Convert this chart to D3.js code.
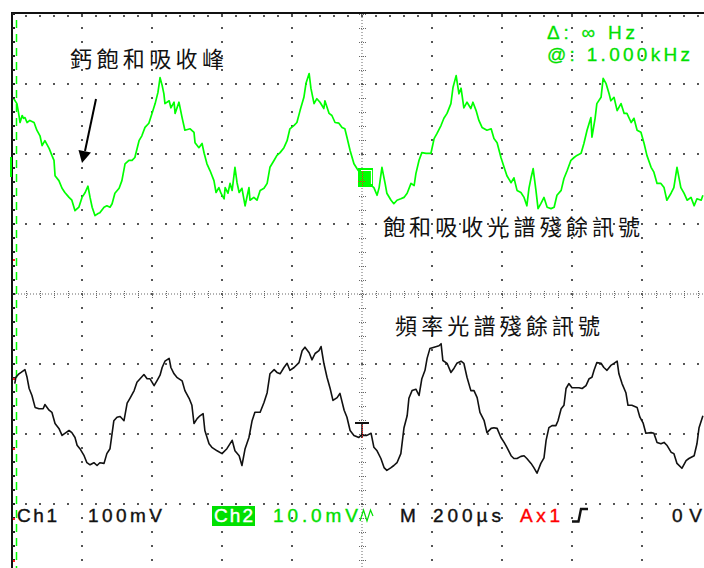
<!DOCTYPE html>
<html><head><meta charset="utf-8">
<script src="https://cdn.jsdelivr.net/npm/d3@7"></script>
<style>html,body{margin:0;padding:0;background:#fff;overflow:hidden}svg{display:block}</style>
</head><body>
<svg id="scope" width="704" height="568"></svg>
<script>
// Sweep: 200 µs/div, 10 divisions
const timeDivs = d3.range(0, 11).map(i => i * 200);
const voltDivs = d3.range(-4, 5);

// Ch2 (saturated absorption residual), mV at 10 mV/div
const ch2Times = [5,14,19,23,29,33,37,43,51,63,
  71,80,86,94,106,114,120,123,134,143,
  151,163,171,180,191,200,209,217,223,229,
  237,246,251,263,271,280,286,294,306,314,
  323,334,343,351,363,371,380,391,400,409,
  417,423,429,434,437,449,454,463,466,477,
  486,494,509,520,523,534,543,549,557,566,
  577,583,591,597,606,609,617,623,629,637,
  643,649,657,666,677,680,691,700,709,720,
  729,737,749,757,766,777,786,794,806,814,
  823,834,840,849,854,863,871,880,891,894,
  906,914,923,934,943,951,957,966,977,986,
  1000,1017,
  1034,1043,1049,1057,1066,1071,1083,1091,1100,1111,
  1120,1129,1140,1149,1154,1163,1171,1183,1197,1206,
  1214,1226,1234,1243,1254,1260,1269,1277,1283,1291,
  1300,1311,1317,1326,1334,1343,1357,1369,1377,1386,
  1397,1406,1414,1426,1434,1443,1454,1463,1471,1477,
  1483,1489,1497,1503,1511,1520,1529,1540,1549,1557,
  1569,1577,1586,1597,1606,1614,1626,1634,1643,1654,
  1657,1666,1671,1683,1689,1697,1706,1711,1720,1729,
  1740,1749,1757,1769,1777,1786,1797,1806,1814,1826,
  1834,1843,1854,1863,1871,1883,1891,1900,1911,1920,
  1929,1940,1949,1957,1969,1974];
const ch2Values = [9.9,9.2,7.8,6.5,7.5,7.1,7.2,6.5,6.8,6.5,
  5.4,4.6,3.2,3.9,2.8,1.8,1.1,-1.1,-1.8,-2.9,
  -3.5,-4.2,-4.6,-6.1,-5.6,-4.2,-3.5,-2.6,-4.2,-5.6,
  -6.8,-6.5,-6.4,-5.6,-5.4,-5.6,-5.1,-3.6,-2.9,-1.8,
  0.6,1.1,1.1,1.5,3.9,4.6,5.8,6.4,7.8,9.2,
  10.8,12.9,11.8,10.6,9.2,9.6,8.6,9.4,7.8,9.4,
  7.2,5.4,5.6,5.1,3.6,2.9,3.5,2.1,0.6,-0.4,
  -1.8,-3.5,-2.8,-3.6,-4.4,-2.8,-3.6,-2.2,-3.2,0.1,
  -2.1,-3.5,-2.9,-5.4,-2.8,-4.6,-4.2,-4.6,-3.2,-2.9,
  -2.2,0.1,1.1,1.8,2.2,2.9,3.9,5.6,6.1,6.5,
  8.2,10.1,12.1,13.5,11.4,9.2,9.9,9.4,8.5,9.6,
  7.8,7.5,6.5,6.4,5.8,5.6,4.4,2.5,0.6,-0.1,
  -1.1,-2.1,
  -2.8,-3.9,-2.8,0.1,-2.2,-3.6,-4.6,-5.1,-4.6,-4.4,
  -4.2,-3.6,-2.2,-2.5,-0.8,1.1,2.2,2.1,2.1,4.2,
  4.9,6.1,7.1,7.8,9.2,11.5,13.2,10.6,11.4,8.6,
  9.4,8.5,9.4,8.2,6.8,5.8,5.4,5.6,4.2,3.6,
  1.5,0.1,-1.1,-2.1,-1.4,-3.2,-3.5,-4.2,-5.4,-2.9,
  -1.4,-0.1,-3.2,-5.8,-5.1,-4.2,-5.6,-5.8,-5.6,-3.9,
  -3.2,-1.5,-0.4,1.1,1.5,1.8,2.1,3.5,5.4,7.2,
  4.4,7.1,9.2,10.1,12.8,12.1,10.6,9.6,10.1,8.2,
  9.2,7.8,7.8,6.5,7.1,5.4,5.1,3.5,1.8,0.1,
  -0.6,-2.2,-2.2,-2.8,-4.6,-3.6,-2.8,0.1,-2.8,-3.6,
  -4.6,-4.2,-5.4,-4.4,-4.6,-3.9];

// Ch1 (frequency spectrum residual), mV at 100 mV/div
const ch1Times = [8,11,20,26,37,43,49,57,66,77,
  89,94,106,114,123,134,143,151,163,171,
  180,186,194,206,214,223,234,243,251,263,
  271,280,286,291,300,309,320,329,337,349,
  357,366,377,386,394,406,414,423,429,437,
  449,454,463,471,486,494,506,514,520,529,
  537,546,551,563,571,586,600,614,629,637,
  649,657,666,677,686,694,709,720,729,737,
  749,757,766,777,786,794,806,820,829,837,
  849,857,866,877,883,891,900,909,917,929,
  937,949,957,966,977,991,997,1014,1026,1034,
  1043,1054,1063,1071,1083,1091,1100,1111,1120,1129,
  1134,1143,1154,1163,1171,1180,1186,1194,1206,1220,
  1226,1231,1243,1254,1263,1271,1283,1291,1300,1311,
  1320,1329,1337,1349,1357,1369,1377,1386,1397,1406,
  1414,1426,1434,1443,1454,1463,1471,1483,1491,1500,
  1511,1520,1526,1534,1543,1554,1560,1569,1577,1583,
  1591,1600,1611,1620,1629,1640,1649,1657,1663,1671,
  1683,1691,1700,1711,1720,1729,1734,1743,1754,1760,
  1771,1786,1794,1803,1811,1826,1834,1843,1854,1863,
  1871,1883,1891,1900,1914,1926,1934,1949,1957,1963,1974];
const ch1Values = [72,81,86,88,92,81,65,55,38,36,
  36,42,34,31,15,8,-2,1,5,2,
  -5,-16,-21,-31,-41,-44,-41,-45,-41,-42,
  -28,-21,1,19,24,25,19,44,51,62,
  74,79,85,79,79,69,76,84,95,104,
  108,95,86,81,76,62,51,41,15,22,
  26,29,5,-14,-19,-24,-28,-21,-9,-24,
  -31,-45,-21,-5,19,31,31,45,59,86,
  92,88,86,95,101,91,95,102,119,124,
  116,106,115,119,125,101,81,65,48,52,
  58,34,24,5,-2,-5,-2,-2,1,-19,
  -24,-35,-48,-52,-48,-45,-41,-28,9,26,
  51,62,64,55,79,91,108,122,124,126,
  129,105,101,88,94,101,104,101,81,62,
  62,52,31,19,2,8,9,8,-5,-12,
  -19,-31,-35,-35,-32,-31,-35,-42,-48,-56,
  -42,-34,-9,9,12,12,19,36,41,65,
  72,66,66,66,65,69,79,81,91,102,
  101,95,91,98,101,104,86,72,59,41,
  41,38,24,16,1,2,1,-12,-14,-12,
  -16,-26,-28,-42,-49,-38,-35,-31,-14,9,26];

// Channel settings
const ch1Scale = 100, ch2Scale = 10;   // mV per division
const ch1Pos = -2, ch2Pos = 1.8;       // vertical position, divisions

const statusLabels = ["Ch1", "100mV", "Ch2", "10.0mV", "M", "200µs", "Ax1", "0 V"];
const cursorLabels = ["Δ: ∞ Hz", "@: 1.000kHz"];
const notes = ["鈣飽和吸收峰", "飽和吸收光譜殘餘訊號", "頻率光譜殘餘訊號"];

const GREEN = "#00ff00", GREEN_TXT = "#00e000", GRID = "#555";
const svg = d3.select("#scope");
const x = d3.scaleLinear().domain([0, 2000]).range([12, 712]);
const yDiv = d3.scaleLinear().domain([-4, 4]).range([574, 14]);
const y1 = v => yDiv(v / ch1Scale + ch1Pos);
const y2 = v => yDiv(v / ch2Scale + ch2Pos);

const grid = svg.append("g");
const minorT = d3.range(0, 51).map(i => i * 40);
const minorV = d3.range(0, 41).map(i => -4 + i * 0.2);

// graticule dots on the division lines
timeDivs.filter(t => t !== 0 && t !== 1000).forEach(t => {
  grid.selectAll(null).data(minorV).join("rect")
    .attr("x", x(t) - 1).attr("y", d => Math.round(yDiv(d)) - 1)
    .attr("width", 2).attr("height", 2).attr("fill", GRID);
});
voltDivs.filter(v => v !== 0 && v !== 4).forEach(v => {
  grid.selectAll(null).data(minorT).join("rect")
    .attr("x", d => Math.round(x(d)) - 1).attr("y", yDiv(v) - 1)
    .attr("width", 2).attr("height", 2).attr("fill", GRID);
});
// minor ticks below the top edge
grid.selectAll(null).data(minorT).join("rect")
  .attr("x", d => Math.round(x(d)) - 1).attr("y", 15)
  .attr("width", 2).attr("height", 2).attr("fill", GRID);

// centre cross lines, finely dotted, with tick marks
grid.append("line").attr("x1", x(0)).attr("x2", x(2000))
  .attr("y1", yDiv(0)).attr("y2", yDiv(0))
  .attr("stroke", "#666").attr("stroke-width", 1).attr("stroke-dasharray", "1 2");
grid.append("line").attr("x1", x(1000)).attr("x2", x(1000))
  .attr("y1", yDiv(4)).attr("y2", yDiv(-4))
  .attr("stroke", "#666").attr("stroke-width", 1).attr("stroke-dasharray", "1 2");
grid.selectAll(null).data(minorT).join("line")
  .attr("x1", d => Math.round(x(d)) + 0.5).attr("x2", d => Math.round(x(d)) + 0.5)
  .attr("y1", yDiv(0) - 3).attr("y2", yDiv(0) + 4)
  .attr("stroke", "#666").attr("stroke-dasharray", "1 1");
grid.selectAll(null).data(minorV).join("line")
  .attr("y1", d => Math.round(yDiv(d)) + 0.5).attr("y2", d => Math.round(yDiv(d)) + 0.5)
  .attr("x1", x(1000) - 3).attr("x2", x(1000) + 4)
  .attr("stroke", "#666").attr("stroke-dasharray", "1 1");

// frame edges
svg.append("rect").attr("x", 11).attr("y", 12).attr("width", 704).attr("height", 2).attr("fill", "#111");
svg.append("rect").attr("x", 11).attr("y", 12).attr("width", 2).attr("height", 560).attr("fill", "#111");
// left-edge ticks
svg.selectAll(null).data(minorV).join("rect")
  .attr("x", 12).attr("y", d => Math.round(yDiv(d)) - 1).attr("width", 3).attr("height", 2)
  .attr("fill", "#222");
// channel level strip at the left edge
svg.append("line").attr("x1", 16.5).attr("x2", 16.5).attr("y1", 20).attr("y2", 568)
  .attr("stroke", GREEN).attr("stroke-width", 1.5).attr("stroke-dasharray", "8 6");
svg.selectAll(null).data([1, -2.4, -4.4, -6.4, -7.6].map(d => d / 2)).join("rect")
  .attr("x", 13).attr("y", d => Math.round(yDiv(d))).attr("width", 2).attr("height", 2)
  .attr("fill", "#ff2020");
// Ch2 ground marker
svg.append("rect").attr("x", 10).attr("y", y2(0) - 11).attr("width", 2).attr("height", 20).attr("fill", GREEN);

// traces
const line2 = d3.line().x((d, i) => x(ch2Times[i])).y(d => y2(d));
const line1 = d3.line().x((d, i) => x(ch1Times[i])).y(d => y1(d));
svg.append("path").datum(ch2Values).attr("d", line2)
  .attr("fill", "none").attr("stroke", GREEN).attr("stroke-width", 1.7).attr("stroke-linejoin", "round");
svg.append("path").datum(ch1Values).attr("d", line1)
  .attr("fill", "none").attr("stroke", "#111").attr("stroke-width", 1.6).attr("stroke-linejoin", "round");

// Ch2 position marker at the centre line
const cx = x(1000);
const mk = svg.append("g");
mk.append("rect").attr("x", cx - 4).attr("y", 168).attr("width", 15).attr("height", 19).attr("fill", GREEN);
mk.append("path").attr("d", `M${cx - 1},170.5 H${cx + 9.5} V184`).attr("fill", "none")
  .attr("stroke", "#fff").attr("stroke-width", 1.2);
mk.append("line").attr("x1", cx + 0.5).attr("x2", cx + 0.5).attr("y1", 171).attr("y2", 186)
  .attr("stroke", "#ff2020").attr("stroke-dasharray", "1 1");
mk.append("line").attr("x1", cx - 4).attr("x2", cx + 4).attr("y1", 181.5).attr("y2", 181.5)
  .attr("stroke", "#ff2020").attr("stroke-dasharray", "1 1");

// trigger marker
const tg = svg.append("g");
tg.append("line").attr("x1", cx - 7).attr("x2", cx + 7).attr("y1", 423).attr("y2", 423)
  .attr("stroke", "#111").attr("stroke-width", 2);
tg.append("line").attr("x1", cx).attr("x2", cx).attr("y1", 423).attr("y2", 438)
  .attr("stroke", "#111").attr("stroke-width", 1.5);
tg.append("line").attr("x1", cx + 0.5).attr("x2", cx + 0.5).attr("y1", 425).attr("y2", 438)
  .attr("stroke", "#ff2020").attr("stroke-dasharray", "1 1");

// annotation arrow
svg.append("line").attr("x1", 96).attr("y1", 99).attr("x2", 85).attr("y2", 151)
  .attr("stroke", "#000").attr("stroke-width", 2);
svg.append("path").attr("d", "M82,163 L78.5,150 L91,152.5 Z").attr("fill", "#000");

// annotations
const cjk = "'Noto Sans CJK TC','Noto Sans CJK SC',sans-serif";
const noteSpec = [
  { t: notes[0], x: 70, y: 66.5, w: 154 },
  { t: notes[1], x: 383, y: 234.5, w: 257 },
  { t: notes[2], x: 395, y: 333.5, w: 205 }
];
svg.selectAll(null).data(noteSpec).join("text")
  .attr("x", d => d.x).attr("y", d => d.y).text(d => d.t)
  .attr("textLength", d => d.w).attr("lengthAdjust", "spacing")
  .attr("font-family", cjk).attr("font-size", 22).attr("fill", "#111");

// cursor readout
const sans = "'Liberation Sans',Arial,sans-serif";
svg.append("text").attr("x", 547).attr("y", 39).text(cursorLabels[0])
  .attr("textLength", 88).attr("lengthAdjust", "spacing")
  .attr("font-family", sans).attr("font-size", 19).attr("fill", GREEN_TXT)
  .attr("stroke", GREEN_TXT).attr("stroke-width", 0.3);
svg.append("text").attr("x", 547).attr("y", 61).text(cursorLabels[1])
  .attr("textLength", 143).attr("lengthAdjust", "spacing")
  .attr("font-family", sans).attr("font-size", 19).attr("fill", GREEN_TXT)
  .attr("stroke", GREEN_TXT).attr("stroke-width", 0.3);

// status line
const by = 522;
svg.append("rect").attr("x", 212).attr("y", 506).attr("width", 43).attr("height", 20).attr("fill", GREEN_TXT);
const status = [
  { t: statusLabels[0], x: 17, w: 40, c: "#111" },
  { t: statusLabels[1], x: 88, w: 74, c: "#111" },
  { t: statusLabels[2], x: 214, w: 39, c: "#fff" },
  { t: statusLabels[3], x: 273, w: 85, c: GREEN_TXT },
  { t: statusLabels[4], x: 400, w: 17, c: "#111" },
  { t: statusLabels[5], x: 433, w: 68, c: "#111" },
  { t: statusLabels[6], x: 520, w: 40, c: "#ff0000" },
  { t: statusLabels[7], x: 672, w: 30, c: "#111" }
];
svg.selectAll(null).data(status).join("text")
  .attr("x", d => d.x).attr("y", by).text(d => d.t)
  .attr("textLength", d => d.w).attr("lengthAdjust", "spacing")
  .attr("font-family", sans).attr("font-size", 19).attr("fill", d => d.c)
  .attr("stroke", d => d.c).attr("stroke-width", 0.4);
// bandwidth-limit glyph after the Ch2 scale
svg.append("path").attr("d", "M360,521 L363.5,510 L367,521 L370.5,510 L373,516")
  .attr("fill", "none").attr("stroke", GREEN_TXT).attr("stroke-width", 1.2);
// rising-edge trigger slope glyph
svg.append("path").attr("d", "M572,521.5 H578.5 L581,509 H588")
  .attr("fill", "none").attr("stroke", "#111").attr("stroke-width", 2.4);
</script></body></html>
